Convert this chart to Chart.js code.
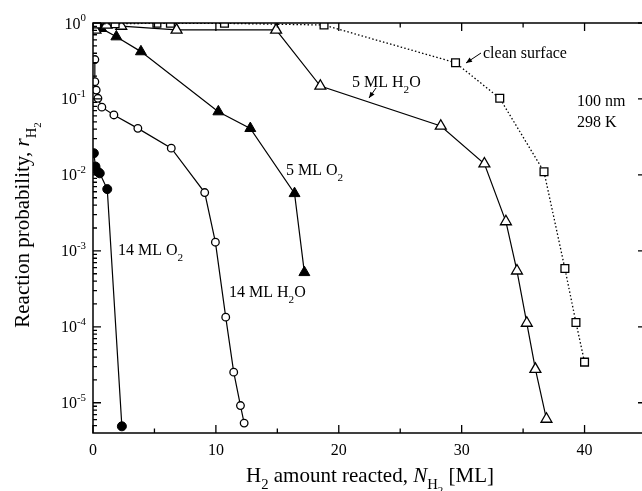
<!DOCTYPE html>
<html>
<head>
<meta charset="utf-8">
<script src="https://cdn.jsdelivr.net/npm/chart.js@4.4.1/dist/chart.umd.min.js"></script>
<style>
html, body { margin: 0; padding: 0; background: #fff; overflow: hidden; }
canvas { display: block; }
</style>
</head>
<body>
<canvas id="rxnChart" width="646" height="491"></canvas>
<script>
// values
// x = H2 amount reacted [ML], y = reaction probability r_H2

// clean surface (open squares, dotted)
var cleanX = [0.3, 1.8, 5.2, 6.3, 10.7, 18.8, 29.5, 33.1, 36.7, 38.4, 39.3, 40.0];
var cleanY = [0.97, 0.98, 0.99, 0.99, 0.99, 0.94, 0.30, 0.102, 0.011, 5.85e-4, 1.14e-4, 3.43e-5];

// 5 ML H2O (open triangles)
var h2o5X = [0.2, 1.1, 2.3, 6.8, 14.9, 18.5, 28.3, 31.85, 33.6, 34.5, 35.3, 36.0, 36.9];
var h2o5Y = [0.81, 0.94, 0.91, 0.81, 0.81, 0.148, 0.044, 0.014, 2.43e-3, 5.46e-4, 1.12e-4, 2.77e-5, 6.1e-6];

// 5 ML O2 (filled triangles)
var o25X = [0.67, 1.9, 3.9, 10.2, 12.8, 16.4, 17.2];
var o25Y = [0.85, 0.66, 0.42, 0.068, 0.041, 5.7e-3, 5.2e-4];

// 14 ML H2O (open circles)
var h2o14X = [0.15, 0.15, 0.26, 0.4, 0.72, 1.7, 3.65, 6.37, 9.09, 9.96, 10.8, 11.45, 12.0, 12.3];
var h2o14Y = [0.33, 0.169, 0.131, 0.102, 0.078, 0.0616, 0.041, 0.0225, 5.86e-3, 1.3e-3, 1.34e-4, 2.53e-5, 9.2e-6, 5.4e-6];

// 14 ML O2 (filled circles)
var o214X = [0.07, 0.2, 0.4, 0.55, 1.16, 2.35];
var o214Y = [0.0193, 0.0129, 0.011, 0.0105, 6.5e-3, 4.9e-6];

// axis ticks
var xMajor = [0, 10, 20, 30, 40];
var xMinor = [5, 15, 25, 35, 45];
var yDecades = [1e-5, 1e-4, 1e-3, 1e-2, 1e-1, 1];
var yExponents = ['-5', '-4', '-3', '-2', '-1', '0'];

var SERIF = '"Liberation Serif", "Times New Roman", serif';

function pts(xs, ys) {
    var out = [];
    for (var i = 0; i < xs.length; i++) {
        out.push({x: xs[i], y: ys[i]});
    }
    return out;
}

// draws text made of pieces: normal, italic, sub, subsub, sup
function drawRich(ctx, parts, x, y, size, align) {
    function style(kind) {
        if (kind === 'sub') return {s: size * 0.7, dy: size * 0.35, it: false};
        if (kind === 'subsub') return {s: size * 0.52, dy: size * 0.55, it: false};
        if (kind === 'sup') return {s: size * 0.68, dy: -size * 0.45, it: false};
        if (kind === 'i') return {s: size, dy: 0, it: true};
        return {s: size, dy: 0, it: false};
    }
    var total = 0, widths = [];
    parts.forEach(function (p) {
        var st = style(p[1]);
        ctx.font = (st.it ? 'italic ' : '') + st.s + 'px ' + SERIF;
        var w = ctx.measureText(p[0]).width;
        widths.push(w);
        total += w;
    });
    var cx = x;
    if (align === 'right') cx = x - total;
    if (align === 'center') cx = x - total / 2;
    ctx.textBaseline = 'alphabetic';
    ctx.textAlign = 'left';
    parts.forEach(function (p, i) {
        var st = style(p[1]);
        ctx.font = (st.it ? 'italic ' : '') + st.s + 'px ' + SERIF;
        ctx.fillText(p[0], cx, y + st.dy);
        cx += widths[i];
    });
}

function arrow(ctx, x1, y1, x2, y2) {
    ctx.beginPath();
    ctx.moveTo(x1, y1);
    ctx.lineTo(x2, y2);
    ctx.lineWidth = 1;
    ctx.stroke();
    var a = Math.atan2(y2 - y1, x2 - x1);
    ctx.beginPath();
    ctx.moveTo(x2, y2);
    ctx.lineTo(x2 - 6 * Math.cos(a) + 2.5 * Math.sin(a), y2 - 6 * Math.sin(a) - 2.5 * Math.cos(a));
    ctx.lineTo(x2 - 6 * Math.cos(a) - 2.5 * Math.sin(a), y2 - 6 * Math.sin(a) + 2.5 * Math.cos(a));
    ctx.closePath();
    ctx.fill();
}

var framePlugin = {
    id: 'frame',
    afterDraw: function (chart) {
        var ctx = chart.ctx;
        var a = chart.chartArea;
        var xs = chart.scales.x, ys = chart.scales.y;
        ctx.save();
        ctx.strokeStyle = '#000';
        ctx.fillStyle = '#000';

        // frame
        ctx.lineWidth = 1.5;
        ctx.strokeRect(a.left, a.top, a.right - a.left, a.bottom - a.top);

        // inward ticks on all four sides
        ctx.lineWidth = 1.3;
        ctx.beginPath();
        function xTick(v, len) {
            var p = xs.getPixelForValue(v);
            ctx.moveTo(p, a.bottom); ctx.lineTo(p, a.bottom - len);
            ctx.moveTo(p, a.top); ctx.lineTo(p, a.top + len);
        }
        function yTick(v, len) {
            var p = ys.getPixelForValue(v);
            ctx.moveTo(a.left, p); ctx.lineTo(a.left + len, p);
            ctx.moveTo(a.right, p); ctx.lineTo(a.right - len, p);
        }
        xMajor.forEach(function (v) { xTick(v, 8); });
        xMinor.forEach(function (v) { xTick(v, 4.5); });
        yDecades.forEach(function (v) { yTick(v, 8); });
        [1e-6].concat(yDecades).forEach(function (d) {
            for (var k = 2; k <= 9; k++) {
                var v = d * k;
                if (v > ys.min && v < ys.max) yTick(v, 4);
            }
        });
        ctx.stroke();

        // y tick labels 10^n
        yDecades.forEach(function (v, i) {
            var p = ys.getPixelForValue(v);
            drawRich(ctx, [['10', 'n'], [yExponents[i], 'sup']], 86, p + 5.5, 16, 'right');
        });

        // axis titles
        drawRich(ctx, [['H', 'n'], ['2', 'sub'], [' amount reacted, ', 'n'], ['N', 'i'], ['H', 'sub'], ['2', 'subsub'], [' [ML]', 'n']],
            370, 482, 21, 'center');
        ctx.save();
        ctx.translate(29, 225);
        ctx.rotate(-Math.PI / 2);
        drawRich(ctx, [['Reaction probability, ', 'n'], ['r', 'i'], ['H', 'sub'], ['2', 'subsub']], 0, 0, 21, 'center');
        ctx.restore();

        // curve labels
        drawRich(ctx, [['5 ML H', 'n'], ['2', 'sub'], ['O', 'n']], 352, 87, 16, 'left');
        drawRich(ctx, [['clean surface', 'n']], 483, 58, 16, 'left');
        drawRich(ctx, [['100 nm', 'n']], 577, 106, 16, 'left');
        drawRich(ctx, [['298 K', 'n']], 577, 127, 16, 'left');
        drawRich(ctx, [['5 ML O', 'n'], ['2', 'sub']], 286, 175, 16, 'left');
        drawRich(ctx, [['14 ML H', 'n'], ['2', 'sub'], ['O', 'n']], 229, 297, 16, 'left');
        drawRich(ctx, [['14 ML O', 'n'], ['2', 'sub']], 118, 255, 16, 'left');

        arrow(ctx, 376, 88, 369, 98);
        arrow(ctx, 481, 53, 466, 63);

        ctx.restore();
    }
};

document.addEventListener('DOMContentLoaded', function () {
    var ctx = document.getElementById('rxnChart').getContext('2d');
    new Chart(ctx, {
        type: 'line',
        data: {
            datasets: [
                {
                    label: 'clean surface',
                    data: pts(cleanX, cleanY),
                    borderColor: '#000',
                    borderWidth: 1.3,
                    borderDash: [1.5, 2.2],
                    pointStyle: 'rect',
                    pointRadius: 5.5,
                    pointBackgroundColor: '#fff',
                    pointBorderColor: '#000',
                    pointBorderWidth: 1.3
                },
                {
                    label: '5 ML H2O',
                    data: pts(h2o5X, h2o5Y),
                    borderColor: '#000',
                    borderWidth: 1.2,
                    pointStyle: 'triangle',
                    pointRadius: 6.3,
                    pointBackgroundColor: '#fff',
                    pointBorderColor: '#000',
                    pointBorderWidth: 1.3
                },
                {
                    label: '5 ML O2',
                    data: pts(o25X, o25Y),
                    borderColor: '#000',
                    borderWidth: 1.2,
                    pointStyle: 'triangle',
                    pointRadius: 6.3,
                    pointBackgroundColor: '#000',
                    pointBorderColor: '#000',
                    pointBorderWidth: 1
                },
                {
                    label: '14 ML H2O',
                    data: pts(h2o14X, h2o14Y),
                    borderColor: '#000',
                    borderWidth: 1.2,
                    pointStyle: 'circle',
                    pointRadius: 3.8,
                    pointBackgroundColor: '#fff',
                    pointBorderColor: '#000',
                    pointBorderWidth: 1.3
                },
                {
                    label: '14 ML O2',
                    data: pts(o214X, o214Y),
                    borderColor: '#000',
                    borderWidth: 1.2,
                    pointStyle: 'circle',
                    pointRadius: 4.5,
                    pointBackgroundColor: '#000',
                    pointBorderColor: '#000',
                    pointBorderWidth: 1
                }
            ]
        },
        options: {
            responsive: false,
            animation: false,
            layout: {autoPadding: false, padding: {top: 23, left: 0, right: 0, bottom: 0}},
            plugins: {
                legend: {display: false},
                tooltip: {enabled: false}
            },
            elements: {line: {tension: 0}},
            scales: {
                x: {
                    type: 'linear',
                    min: 0,
                    max: 45,
                    grid: {display: false, drawTicks: false},
                    border: {display: false},
                    afterBuildTicks: function (s) {
                        s.ticks = xMajor.map(function (v) { return {value: v}; });
                    },
                    afterFit: function (s) {
                        s.height = 58;
                        s.paddingLeft = 0;
                        s.paddingRight = 0;
                    },
                    ticks: {
                        color: '#000',
                        font: {family: SERIF, size: 16},
                        padding: 8,
                        maxRotation: 0,
                        autoSkip: false
                    }
                },
                y: {
                    type: 'logarithmic',
                    min: 4e-6,
                    max: 1,
                    grid: {display: false, drawTicks: false},
                    border: {display: false},
                    ticks: {display: false},
                    afterFit: function (s) {
                        s.width = 93;
                        s.paddingTop = 0;
                        s.paddingBottom = 0;
                    }
                }
            }
        },
        plugins: [framePlugin]
    });
});
</script>
</body>
</html>
